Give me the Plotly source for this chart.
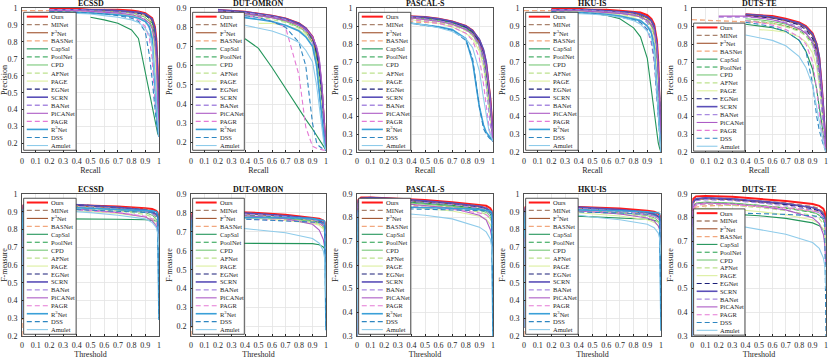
import plotly.graph_objects as go

# methods in legend order
METHODS = ["Ours", "MINet", "F3Net", "BASNet", "CapSal", "PoolNet", "CPD", "AFNet", "PAGE",
           "EGNet", "SCRN", "BANet", "PiCANet", "PAGR", "R3Net", "DSS", "Amulet"]
DUTS_METHODS = ["Ours", "MINet", "F3Net", "BASNet", "CapSal", "PoolNet", "CPD", "AFNet", "PAGE",
                "EGNet", "SCRN", "BANet", "PiCANet", "PAGR", "DSS", "Amulet"]
LABELS = {"F3Net": "F<sup>3</sup>Net", "R3Net": "R<sup>3</sup>Net"}

DATASETS = ["ECSSD", "DUT-OMRON", "PASCAL-S", "HKU-IS", "DUTS-TE"]

# x grids
RECALL = [0.0, 0.2, 0.4, 0.5, 0.6, 0.7, 0.8, 0.85, 0.9, 0.93, 0.95, 0.97, 0.98, 0.99, 1.0]
THRESH = [0.0, 0.01, 0.03, 0.1, 0.3, 0.5, 0.7, 0.9, 0.95, 0.98, 0.99, 1.0]

# ---- precision-recall (one row per method) ----
ECSSD_PR = [
    [None, 0.995, 0.995, 0.99, 0.99, 0.99, 0.985, 0.98, 0.97, 0.955, 0.94, 0.89, 0.82, 0.65, 0.24],
    [None, 0.99, 0.99, 0.99, 0.99, 0.985, 0.98, 0.975, 0.965, 0.95, 0.93, 0.87, 0.78, 0.6, 0.24],
    [None, 0.99, 0.99, 0.99, 0.985, 0.98, 0.975, 0.97, 0.96, 0.945, 0.925, 0.86, 0.76, 0.58, 0.24],
    [0.985, 0.985, 0.985, 0.985, 0.98, 0.98, 0.975, 0.97, 0.955, 0.93, 0.9, 0.8, 0.68, 0.5, 0.24],
    [None, None, None, 0.945, 0.93, 0.91, 0.87, 0.82, 0.62, 0.5, 0.42, 0.33, 0.29, 0.26, 0.24],
    [None, 0.99, 0.99, 0.985, 0.985, 0.98, 0.975, 0.97, 0.955, 0.935, 0.91, 0.82, 0.7, 0.5, 0.24],
    [None, 0.99, 0.99, 0.985, 0.98, 0.975, 0.97, 0.96, 0.945, 0.92, 0.89, 0.78, 0.65, 0.45, 0.24],
    [None, 0.985, 0.985, 0.98, 0.98, 0.975, 0.965, 0.955, 0.935, 0.91, 0.88, 0.76, 0.62, 0.45, 0.24],
    [None, 0.98, 0.98, 0.975, 0.97, 0.965, 0.955, 0.945, 0.92, 0.89, 0.85, 0.72, 0.58, 0.42, 0.24],
    [None, 0.99, 0.99, 0.99, 0.985, 0.98, 0.975, 0.97, 0.96, 0.945, 0.93, 0.87, 0.78, 0.6, 0.24],
    [None, 0.99, 0.99, 0.99, 0.99, 0.985, 0.98, 0.975, 0.965, 0.95, 0.935, 0.88, 0.8, 0.62, 0.24],
    [None, 0.99, 0.99, 0.985, 0.98, 0.975, 0.97, 0.96, 0.93, 0.88, 0.78, 0.55, 0.4, 0.3, 0.24],
    [None, 0.985, 0.985, 0.98, 0.975, 0.97, 0.96, 0.95, 0.93, 0.91, 0.88, 0.8, 0.7, 0.5, 0.24],
    [None, 0.98, 0.98, 0.975, 0.97, 0.96, 0.945, 0.93, 0.89, 0.82, 0.7, 0.45, 0.35, 0.28, 0.24],
    [None, 0.975, 0.975, 0.97, 0.965, 0.96, 0.95, 0.94, 0.92, 0.89, 0.82, 0.55, 0.4, 0.3, 0.24],
    [None, 0.98, 0.975, 0.97, 0.965, 0.955, 0.94, 0.92, 0.86, 0.72, 0.58, 0.4, 0.33, 0.28, 0.24],
    [None, 0.975, 0.97, 0.965, 0.955, 0.945, 0.93, 0.915, 0.88, 0.84, 0.78, 0.6, 0.45, 0.32, 0.24],
]
DUTO_PR = [
    [None, 0.89, 0.88, 0.87, 0.86, 0.845, 0.82, 0.795, 0.75, 0.68, 0.6, 0.46, 0.36, 0.25, 0.16],
    [None, 0.885, 0.875, 0.865, 0.855, 0.84, 0.815, 0.79, 0.74, 0.67, 0.58, 0.43, 0.33, 0.23, 0.16],
    [None, 0.885, 0.875, 0.865, 0.855, 0.84, 0.81, 0.785, 0.735, 0.66, 0.57, 0.42, 0.32, 0.23, 0.16],
    [None, None, 0.865, 0.86, 0.85, 0.835, 0.805, 0.78, 0.72, 0.62, 0.5, 0.35, 0.27, 0.2, 0.16],
    [None, None, 0.74, 0.69, 0.59, 0.48, 0.375, 0.32, 0.27, 0.235, 0.215, 0.195, 0.18, 0.17, 0.16],
    [None, 0.88, 0.87, 0.86, 0.85, 0.835, 0.81, 0.785, 0.73, 0.65, 0.55, 0.4, 0.3, 0.22, 0.16],
    [None, 0.88, 0.87, 0.86, 0.85, 0.83, 0.8, 0.775, 0.72, 0.64, 0.54, 0.4, 0.3, 0.22, 0.16],
    [None, 0.875, 0.865, 0.855, 0.84, 0.825, 0.795, 0.77, 0.71, 0.62, 0.52, 0.38, 0.29, 0.21, 0.16],
    [None, None, None, 0.82, 0.82, 0.81, 0.785, 0.76, 0.7, 0.6, 0.5, 0.36, 0.28, 0.21, 0.16],
    [None, 0.885, 0.875, 0.865, 0.855, 0.84, 0.815, 0.79, 0.745, 0.67, 0.58, 0.44, 0.34, 0.24, 0.16],
    [None, 0.89, 0.88, 0.87, 0.86, 0.845, 0.82, 0.795, 0.75, 0.69, 0.62, 0.48, 0.38, 0.26, 0.16],
    [None, 0.885, 0.875, 0.865, 0.855, 0.84, 0.81, 0.78, 0.72, 0.6, 0.48, 0.33, 0.26, 0.2, 0.16],
    [None, 0.88, 0.87, 0.86, 0.85, 0.835, 0.81, 0.79, 0.75, 0.7, 0.64, 0.5, 0.4, 0.28, 0.16],
    [None, 0.87, 0.86, 0.85, 0.83, 0.8, 0.55, 0.28, 0.18, 0.17, 0.165, 0.16, 0.16, 0.16, 0.16],
    [None, 0.86, 0.85, 0.84, 0.83, 0.81, 0.78, 0.75, 0.7, 0.6, 0.45, 0.3, 0.24, 0.19, 0.16],
    [None, None, 0.86, 0.85, 0.83, 0.8, 0.72, 0.6, 0.3, 0.2, 0.18, 0.17, 0.165, 0.16, 0.16],
    [None, None, 0.81, 0.795, 0.78, 0.755, 0.72, 0.68, 0.62, 0.5, 0.38, 0.27, 0.22, 0.18, 0.16],
]
PASCAL_PR = [
    [None, 0.96, 0.955, 0.95, 0.94, 0.925, 0.9, 0.875, 0.82, 0.76, 0.69, 0.58, 0.5, 0.4, 0.26],
    [None, 0.955, 0.95, 0.945, 0.935, 0.92, 0.895, 0.87, 0.815, 0.75, 0.68, 0.56, 0.48, 0.38, 0.26],
    [None, 0.955, 0.95, 0.945, 0.935, 0.92, 0.89, 0.865, 0.81, 0.74, 0.66, 0.54, 0.46, 0.37, 0.26],
    [None, 0.93, 0.925, 0.92, 0.915, 0.905, 0.88, 0.85, 0.78, 0.69, 0.6, 0.45, 0.38, 0.32, 0.26],
    [None, 0.95, 0.945, 0.94, 0.935, 0.92, 0.89, 0.86, 0.8, 0.72, 0.62, 0.46, 0.38, 0.32, 0.26],
    [None, 0.95, 0.945, 0.94, 0.93, 0.915, 0.885, 0.86, 0.8, 0.72, 0.63, 0.5, 0.42, 0.34, 0.26],
    [None, 0.95, 0.945, 0.94, 0.93, 0.91, 0.88, 0.85, 0.79, 0.71, 0.62, 0.48, 0.4, 0.33, 0.26],
    [None, 0.945, 0.94, 0.93, 0.92, 0.905, 0.875, 0.845, 0.78, 0.7, 0.6, 0.46, 0.39, 0.32, 0.26],
    [None, 0.94, 0.935, 0.925, 0.915, 0.895, 0.86, 0.83, 0.76, 0.67, 0.57, 0.44, 0.37, 0.31, 0.26],
    [None, 0.955, 0.95, 0.945, 0.935, 0.92, 0.895, 0.87, 0.815, 0.75, 0.67, 0.55, 0.47, 0.37, 0.26],
    [None, 0.96, 0.955, 0.95, 0.94, 0.925, 0.9, 0.875, 0.825, 0.77, 0.7, 0.58, 0.5, 0.4, 0.26],
    [None, 0.955, 0.95, 0.94, 0.93, 0.915, 0.885, 0.855, 0.79, 0.7, 0.58, 0.42, 0.35, 0.3, 0.26],
    [None, 0.95, 0.945, 0.935, 0.925, 0.91, 0.88, 0.855, 0.8, 0.74, 0.67, 0.56, 0.48, 0.38, 0.26],
    [None, 0.94, 0.935, 0.925, 0.915, 0.895, 0.86, 0.82, 0.72, 0.58, 0.45, 0.34, 0.3, 0.28, 0.26],
    [None, 0.92, 0.915, 0.905, 0.895, 0.88, 0.83, 0.7, 0.45, 0.35, 0.31, 0.29, 0.28, 0.27, 0.26],
    [None, 0.92, 0.915, 0.905, 0.895, 0.875, 0.82, 0.72, 0.45, 0.33, 0.3, 0.28, 0.27, 0.265, 0.26],
    [None, 0.92, 0.915, 0.905, 0.89, 0.87, 0.83, 0.78, 0.65, 0.5, 0.4, 0.32, 0.3, 0.28, 0.26],
]
HKU_PR = [
    [None, 0.995, 0.995, 0.99, 0.99, 0.985, 0.98, 0.975, 0.96, 0.94, 0.91, 0.82, 0.7, 0.5, 0.2],
    [None, 0.99, 0.99, 0.99, 0.985, 0.98, 0.975, 0.965, 0.95, 0.93, 0.9, 0.8, 0.68, 0.48, 0.2],
    [None, 0.99, 0.99, 0.985, 0.985, 0.98, 0.97, 0.96, 0.945, 0.925, 0.89, 0.78, 0.65, 0.46, 0.2],
    [0.985, 0.985, 0.985, 0.985, 0.98, 0.975, 0.965, 0.955, 0.93, 0.9, 0.85, 0.7, 0.55, 0.38, 0.2],
    [None, None, 0.975, 0.97, 0.96, 0.94, 0.89, 0.84, 0.72, 0.55, 0.42, 0.3, 0.25, 0.22, 0.2],
    [None, 0.99, 0.99, 0.985, 0.98, 0.975, 0.965, 0.955, 0.935, 0.91, 0.87, 0.74, 0.6, 0.42, 0.2],
    [None, 0.99, 0.985, 0.98, 0.975, 0.97, 0.96, 0.95, 0.93, 0.9, 0.86, 0.72, 0.58, 0.4, 0.2],
    [None, 0.985, 0.985, 0.98, 0.975, 0.965, 0.955, 0.945, 0.92, 0.89, 0.85, 0.7, 0.56, 0.39, 0.2],
    [None, 0.98, 0.98, 0.975, 0.97, 0.96, 0.945, 0.93, 0.9, 0.87, 0.82, 0.66, 0.52, 0.37, 0.2],
    [None, 0.99, 0.99, 0.99, 0.985, 0.98, 0.975, 0.965, 0.95, 0.93, 0.9, 0.8, 0.68, 0.48, 0.2],
    [None, 0.99, 0.99, 0.99, 0.985, 0.98, 0.975, 0.965, 0.95, 0.93, 0.9, 0.8, 0.68, 0.5, 0.2],
    [None, 0.99, 0.99, 0.985, 0.98, 0.975, 0.965, 0.95, 0.92, 0.87, 0.8, 0.6, 0.45, 0.32, 0.2],
    [None, 0.985, 0.985, 0.98, 0.975, 0.97, 0.96, 0.95, 0.93, 0.91, 0.88, 0.78, 0.66, 0.48, 0.2],
    [None, 0.98, 0.975, 0.97, 0.965, 0.955, 0.94, 0.92, 0.88, 0.8, 0.7, 0.5, 0.38, 0.28, 0.2],
    [None, 0.975, 0.975, 0.97, 0.965, 0.955, 0.94, 0.93, 0.9, 0.86, 0.78, 0.55, 0.42, 0.3, 0.2],
    [None, 0.98, 0.975, 0.97, 0.96, 0.95, 0.935, 0.92, 0.88, 0.82, 0.72, 0.5, 0.38, 0.28, 0.2],
    [None, 0.975, 0.97, 0.965, 0.96, 0.95, 0.93, 0.91, 0.87, 0.83, 0.76, 0.56, 0.42, 0.3, 0.2],
]
DUTS_PR = [
    [None, None, 0.965, 0.96, 0.955, 0.94, 0.92, 0.9, 0.86, 0.8, 0.72, 0.55, 0.45, 0.33, 0.2],
    [None, None, 0.96, 0.955, 0.95, 0.935, 0.915, 0.895, 0.85, 0.79, 0.7, 0.52, 0.42, 0.31, 0.2],
    [None, None, 0.96, 0.955, 0.945, 0.93, 0.91, 0.89, 0.845, 0.78, 0.69, 0.5, 0.4, 0.3, 0.2],
    [0.935, 0.93, 0.925, 0.92, 0.915, 0.9, 0.88, 0.86, 0.81, 0.74, 0.64, 0.46, 0.37, 0.28, 0.2],
    [None, None, 0.91, 0.9, 0.89, 0.87, 0.82, 0.76, 0.66, 0.55, 0.45, 0.33, 0.28, 0.24, 0.2],
    [None, None, 0.93, 0.925, 0.915, 0.9, 0.875, 0.85, 0.8, 0.72, 0.62, 0.45, 0.36, 0.28, 0.2],
    [None, None, 0.94, 0.935, 0.925, 0.91, 0.885, 0.86, 0.815, 0.75, 0.65, 0.48, 0.38, 0.29, 0.2],
    [None, None, 0.93, 0.925, 0.915, 0.895, 0.87, 0.845, 0.79, 0.71, 0.6, 0.44, 0.36, 0.28, 0.2],
    [None, None, None, 0.88, 0.875, 0.865, 0.84, 0.81, 0.75, 0.67, 0.57, 0.42, 0.35, 0.27, 0.2],
    [None, None, 0.955, 0.95, 0.945, 0.93, 0.905, 0.88, 0.83, 0.76, 0.66, 0.5, 0.4, 0.3, 0.2],
    [None, None, 0.965, 0.96, 0.95, 0.935, 0.915, 0.895, 0.855, 0.8, 0.73, 0.57, 0.46, 0.34, 0.2],
    [None, 0.95, 0.95, 0.945, 0.935, 0.92, 0.895, 0.87, 0.81, 0.72, 0.6, 0.42, 0.34, 0.27, 0.2],
    [None, 0.955, 0.955, 0.945, 0.935, 0.915, 0.885, 0.86, 0.81, 0.75, 0.68, 0.54, 0.44, 0.32, 0.2],
    [None, None, 0.93, 0.92, 0.905, 0.88, 0.84, 0.8, 0.7, 0.55, 0.42, 0.3, 0.26, 0.23, 0.2],
    [None, None, 0.92, 0.91, 0.895, 0.87, 0.82, 0.76, 0.58, 0.4, 0.32, 0.26, 0.24, 0.22, 0.2],
    [None, None, 0.85, 0.835, 0.82, 0.79, 0.73, 0.67, 0.57, 0.45, 0.36, 0.28, 0.25, 0.22, 0.2],
]

# ---- F-measure vs threshold ----
ECSSD_F = [
    [0.3, 0.935, 0.94, 0.945, 0.94, 0.935, 0.93, 0.92, 0.915, 0.905, 0.895, 0.86],
    [0.3, 0.93, 0.94, 0.945, 0.94, 0.935, 0.925, 0.915, 0.905, 0.89, 0.88, 0.83],
    [0.3, 0.925, 0.935, 0.94, 0.94, 0.93, 0.92, 0.905, 0.895, 0.88, 0.87, 0.8],
    [0.2, 0.9, 0.92, 0.935, 0.935, 0.93, 0.92, 0.905, 0.895, 0.88, 0.87, 0.82],
    [0.3, 0.84, 0.855, 0.86, 0.86, 0.86, 0.858, 0.855, 0.852, 0.848, 0.845, 0.83],
    [0.3, 0.92, 0.93, 0.935, 0.93, 0.925, 0.915, 0.9, 0.89, 0.87, 0.86, 0.8],
    [0.3, 0.92, 0.93, 0.935, 0.93, 0.92, 0.91, 0.895, 0.88, 0.86, 0.84, 0.75],
    [0.3, 0.91, 0.92, 0.93, 0.925, 0.915, 0.905, 0.885, 0.87, 0.85, 0.83, 0.75],
    [0.3, 0.9, 0.91, 0.915, 0.91, 0.9, 0.89, 0.87, 0.855, 0.83, 0.81, 0.72],
    [0.3, 0.93, 0.94, 0.945, 0.94, 0.935, 0.925, 0.91, 0.9, 0.885, 0.875, 0.8],
    [0.3, 0.935, 0.945, 0.95, 0.945, 0.935, 0.925, 0.91, 0.9, 0.885, 0.875, 0.8],
    [0.3, 0.925, 0.935, 0.94, 0.935, 0.925, 0.915, 0.9, 0.89, 0.87, 0.85, 0.78],
    [0.3, 0.9, 0.915, 0.925, 0.92, 0.91, 0.895, 0.87, 0.85, 0.82, 0.79, 0.72],
    [0.3, 0.88, 0.9, 0.915, 0.915, 0.905, 0.895, 0.875, 0.86, 0.84, 0.82, 0.75],
    [0.78, 0.91, 0.92, 0.925, 0.925, 0.92, 0.915, 0.91, 0.905, 0.9, 0.89, 0.29],
    [0.3, 0.9, 0.91, 0.915, 0.915, 0.91, 0.905, 0.9, 0.895, 0.89, 0.88, 0.3],
    [0.3, 0.89, 0.9, 0.91, 0.905, 0.895, 0.88, 0.86, 0.84, 0.81, 0.78, 0.7],
]
DUTO_F = [
    [0.2, 0.8, 0.81, 0.81, 0.805, 0.8, 0.79, 0.775, 0.77, 0.76, 0.75, 0.7],
    [0.2, 0.79, 0.805, 0.81, 0.805, 0.795, 0.785, 0.77, 0.76, 0.75, 0.74, 0.68],
    [0.2, 0.79, 0.8, 0.805, 0.8, 0.79, 0.78, 0.765, 0.755, 0.74, 0.73, 0.66],
    [0.15, 0.75, 0.765, 0.77, 0.775, 0.775, 0.77, 0.765, 0.76, 0.75, 0.74, 0.7],
    [0.2, 0.62, 0.635, 0.64, 0.64, 0.64, 0.64, 0.638, 0.632, 0.62, 0.61, 0.6],
    [0.2, 0.78, 0.79, 0.795, 0.79, 0.785, 0.775, 0.76, 0.75, 0.735, 0.72, 0.65],
    [0.2, 0.78, 0.79, 0.795, 0.79, 0.78, 0.77, 0.755, 0.745, 0.725, 0.71, 0.63],
    [0.2, 0.77, 0.78, 0.785, 0.78, 0.775, 0.765, 0.75, 0.74, 0.72, 0.7, 0.62],
    [0.2, 0.76, 0.77, 0.775, 0.775, 0.77, 0.76, 0.745, 0.735, 0.715, 0.7, 0.62],
    [0.2, 0.79, 0.8, 0.805, 0.8, 0.795, 0.785, 0.77, 0.76, 0.745, 0.735, 0.66],
    [0.2, 0.79, 0.805, 0.81, 0.805, 0.795, 0.785, 0.77, 0.76, 0.745, 0.735, 0.66],
    [0.2, 0.78, 0.79, 0.795, 0.795, 0.79, 0.78, 0.765, 0.755, 0.74, 0.73, 0.66],
    [0.2, 0.77, 0.785, 0.79, 0.79, 0.78, 0.77, 0.74, 0.71, 0.66, 0.62, 0.5],
    [0.2, 0.75, 0.765, 0.77, 0.77, 0.765, 0.76, 0.75, 0.745, 0.73, 0.72, 0.65],
    [0.6, 0.76, 0.77, 0.775, 0.775, 0.775, 0.775, 0.77, 0.765, 0.76, 0.755, 0.18],
    [0.2, 0.76, 0.765, 0.77, 0.77, 0.765, 0.76, 0.755, 0.75, 0.745, 0.74, 0.2],
    [0.2, 0.72, 0.73, 0.735, 0.725, 0.71, 0.695, 0.665, 0.64, 0.6, 0.56, 0.35],
]
PASCAL_F = [
    [0.3, 0.875, 0.885, 0.885, 0.88, 0.875, 0.865, 0.855, 0.85, 0.84, 0.83, 0.8],
    [0.3, 0.87, 0.88, 0.882, 0.878, 0.87, 0.86, 0.85, 0.843, 0.83, 0.82, 0.78],
    [0.3, 0.87, 0.878, 0.88, 0.875, 0.868, 0.858, 0.845, 0.838, 0.825, 0.815, 0.77],
    [0.3, 0.84, 0.85, 0.855, 0.855, 0.85, 0.845, 0.835, 0.83, 0.82, 0.81, 0.78],
    [0.3, 0.86, 0.87, 0.875, 0.87, 0.862, 0.852, 0.838, 0.83, 0.815, 0.805, 0.77],
    [0.3, 0.865, 0.875, 0.878, 0.872, 0.865, 0.855, 0.84, 0.832, 0.818, 0.805, 0.76],
    [0.3, 0.86, 0.87, 0.872, 0.866, 0.858, 0.848, 0.832, 0.822, 0.805, 0.79, 0.74],
    [0.3, 0.855, 0.865, 0.868, 0.862, 0.852, 0.84, 0.824, 0.814, 0.795, 0.78, 0.73],
    [0.3, 0.845, 0.855, 0.858, 0.85, 0.84, 0.828, 0.806, 0.793, 0.772, 0.755, 0.7],
    [0.3, 0.87, 0.88, 0.882, 0.877, 0.87, 0.86, 0.846, 0.838, 0.825, 0.815, 0.77],
    [0.3, 0.872, 0.882, 0.885, 0.88, 0.872, 0.862, 0.848, 0.84, 0.828, 0.818, 0.77],
    [0.3, 0.865, 0.875, 0.878, 0.873, 0.865, 0.855, 0.84, 0.832, 0.818, 0.805, 0.76],
    [0.3, 0.855, 0.865, 0.868, 0.862, 0.852, 0.84, 0.81, 0.79, 0.75, 0.72, 0.65],
    [0.3, 0.84, 0.852, 0.856, 0.852, 0.845, 0.835, 0.82, 0.812, 0.798, 0.788, 0.74],
    [0.6, 0.83, 0.84, 0.845, 0.845, 0.843, 0.84, 0.835, 0.832, 0.828, 0.825, 0.3],
    [0.3, 0.83, 0.835, 0.838, 0.838, 0.836, 0.833, 0.83, 0.828, 0.824, 0.82, 0.32],
    [0.3, 0.82, 0.83, 0.83, 0.82, 0.81, 0.795, 0.76, 0.74, 0.71, 0.68, 0.6],
]
HKU_F = [
    [0.25, 0.925, 0.935, 0.935, 0.93, 0.925, 0.918, 0.905, 0.9, 0.89, 0.88, 0.86],
    [0.25, 0.92, 0.93, 0.932, 0.928, 0.92, 0.912, 0.898, 0.89, 0.878, 0.87, 0.83],
    [0.25, 0.915, 0.925, 0.93, 0.925, 0.918, 0.908, 0.893, 0.885, 0.87, 0.86, 0.81],
    [0.2, 0.89, 0.91, 0.92, 0.92, 0.915, 0.908, 0.895, 0.888, 0.875, 0.865, 0.82],
    [0.25, 0.87, 0.88, 0.882, 0.878, 0.872, 0.866, 0.858, 0.852, 0.845, 0.84, 0.82],
    [0.25, 0.91, 0.922, 0.925, 0.92, 0.912, 0.902, 0.886, 0.876, 0.86, 0.848, 0.79],
    [0.25, 0.905, 0.917, 0.92, 0.915, 0.906, 0.895, 0.878, 0.866, 0.848, 0.835, 0.77],
    [0.25, 0.9, 0.91, 0.915, 0.91, 0.9, 0.888, 0.87, 0.858, 0.84, 0.825, 0.76],
    [0.25, 0.89, 0.9, 0.905, 0.9, 0.89, 0.876, 0.855, 0.84, 0.82, 0.805, 0.74],
    [0.25, 0.92, 0.93, 0.932, 0.928, 0.92, 0.91, 0.895, 0.886, 0.872, 0.862, 0.8],
    [0.25, 0.92, 0.932, 0.935, 0.93, 0.922, 0.912, 0.897, 0.888, 0.874, 0.864, 0.8],
    [0.25, 0.912, 0.924, 0.928, 0.923, 0.915, 0.904, 0.888, 0.878, 0.862, 0.85, 0.78],
    [0.25, 0.9, 0.912, 0.916, 0.91, 0.9, 0.887, 0.865, 0.848, 0.82, 0.8, 0.72],
    [0.25, 0.895, 0.91, 0.915, 0.912, 0.905, 0.896, 0.882, 0.874, 0.86, 0.85, 0.78],
    [0.75, 0.9, 0.91, 0.912, 0.912, 0.91, 0.906, 0.9, 0.897, 0.893, 0.89, 0.23],
    [0.25, 0.89, 0.9, 0.902, 0.9, 0.897, 0.893, 0.886, 0.882, 0.877, 0.872, 0.3],
    [0.25, 0.89, 0.9, 0.9, 0.89, 0.87, 0.855, 0.83, 0.81, 0.78, 0.75, 0.66],
]
DUTS_F = [
    [0.3, 0.88, 0.89, 0.892, 0.888, 0.88, 0.87, 0.858, 0.85, 0.838, 0.825, 0.79],
    [0.3, 0.87, 0.88, 0.884, 0.88, 0.872, 0.862, 0.847, 0.838, 0.823, 0.81, 0.77],
    [0.3, 0.865, 0.876, 0.88, 0.876, 0.868, 0.857, 0.842, 0.832, 0.816, 0.803, 0.76],
    [0.3, 0.83, 0.845, 0.85, 0.852, 0.848, 0.842, 0.832, 0.825, 0.812, 0.8, 0.77],
    [0.3, 0.8, 0.815, 0.82, 0.815, 0.808, 0.797, 0.778, 0.766, 0.75, 0.738, 0.7],
    [0.3, 0.85, 0.86, 0.865, 0.86, 0.852, 0.84, 0.822, 0.81, 0.79, 0.775, 0.72],
    [0.3, 0.85, 0.862, 0.866, 0.862, 0.853, 0.842, 0.824, 0.812, 0.79, 0.775, 0.71],
    [0.3, 0.84, 0.852, 0.856, 0.852, 0.843, 0.83, 0.81, 0.796, 0.775, 0.76, 0.7],
    [0.3, 0.825, 0.837, 0.84, 0.835, 0.826, 0.812, 0.79, 0.775, 0.752, 0.735, 0.68],
    [0.3, 0.865, 0.876, 0.88, 0.876, 0.867, 0.855, 0.838, 0.828, 0.81, 0.797, 0.74],
    [0.3, 0.868, 0.88, 0.884, 0.88, 0.871, 0.86, 0.843, 0.832, 0.815, 0.8, 0.74],
    [0.3, 0.86, 0.872, 0.876, 0.872, 0.863, 0.85, 0.832, 0.82, 0.8, 0.785, 0.72],
    [0.3, 0.845, 0.858, 0.862, 0.858, 0.848, 0.833, 0.8, 0.775, 0.73, 0.69, 0.6],
    [0.3, 0.84, 0.853, 0.858, 0.856, 0.85, 0.842, 0.828, 0.82, 0.805, 0.793, 0.74],
    [0.3, 0.81, 0.818, 0.82, 0.82, 0.818, 0.814, 0.808, 0.804, 0.798, 0.792, 0.3],
    [0.3, 0.77, 0.78, 0.78, 0.77, 0.75, 0.73, 0.695, 0.67, 0.63, 0.6, 0.5],
]

PR_YRANGE = [[0.15, 1], [0.15, 0.9], [0.2, 1], [0.2, 1], [0.2, 1]]
F_YRANGE = [[0.2, 1], [0.15, 0.9], [0.3, 0.9], [0.2, 1], [0.3, 0.9]]

# colour, dash, width
STYLE = {
    "Ours": ("#ff1a1a", "solid", 2.0),
    "MINet": ("#a9826d", "5px,3px", 1.3),
    "F3Net": ("#a0522d", "solid", 1.1),
    "BASNet": ("#f2a77e", "5px,3px", 1.3),
    "CapSal": ("#23955a", "solid", 1.1),
    "PoolNet": ("#1f9e48", "5px,3px", 1.0),
    "CPD": ("#6cc36c", "solid", 1.0),
    "AFNet": ("#bde28e", "5px,3px", 1.2),
    "PAGE": ("#dcef9f", "solid", 1.1),
    "EGNet": ("#1b1f78", "5px,3px", 1.1),
    "SCRN": ("#5a4fb8", "solid", 1.6),
    "BANet": ("#a98be0", "5px,3px", 1.3),
    "PiCANet": ("#ad5cc6", "solid", 1.1),
    "PAGR": ("#e57ad5", "5px,3px", 1.1),
    "R3Net": ("#3aa0d8", "solid", 1.6),
    "DSS": ("#2e86c1", "5px,3px", 1.1),
    "Amulet": ("#8ecbea", "solid", 1.1),
}

W, H = 831, 359
X_PIX = [(22, 159), (191, 326), (357, 493), (524, 661), (692, 826)]
Y_PIX = [(8, 152), (194, 336)]
FONT = "Liberation Serif"
INK = "#262626"

PR_DATA = [ECSSD_PR, DUTO_PR, PASCAL_PR, HKU_PR, DUTS_PR]
F_DATA = [ECSSD_F, DUTO_F, PASCAL_F, HKU_F, DUTS_F]

panels = []
for c, name in enumerate(DATASETS):
    methods = DUTS_METHODS if name == "DUTS-TE" else METHODS
    panels.append((0, c, name, RECALL, PR_DATA[c], methods, PR_YRANGE[c], "Recall", "Precision"))
for c, name in enumerate(DATASETS):
    methods = DUTS_METHODS if name == "DUTS-TE" else METHODS
    panels.append((1, c, name, THRESH, F_DATA[c], methods, F_YRANGE[c], "Threshold", "F-measure"))

fig = go.Figure()
shapes = []
annotations = []

for k, (row, col, name, xs, rows, methods, yr, xtitle, ytitle) in enumerate(panels):
    sfx = "" if k == 0 else str(k + 1)
    for m, ys in zip(methods, rows):
        color, dash, width = STYLE[m]
        fig.add_trace(go.Scatter(
            x=xs, y=ys, mode="lines", name=m, showlegend=False,
            line=dict(color=color, dash=dash, width=width),
            xaxis="x" + sfx, yaxis="y" + sfx,
        ))

    xd = X_PIX[col]
    yd = Y_PIX[row]
    common = dict(
        showline=True, linecolor=INK, linewidth=0.8, mirror=True,
        ticks="inside", ticklen=2, tickcolor=INK, automargin=False,
        showgrid=True, gridcolor="#e3e3e3", gridwidth=0.8, zeroline=False,
        tick0=0, dtick=0.1,
        tickfont=dict(family=FONT, size=8, color=INK),
    )
    fig.layout["xaxis" + sfx] = dict(
        common, domain=[xd[0] / W, xd[1] / W], range=[0, 1], anchor="y" + sfx,
        ticklabelstandoff=2,
        title=dict(text=xtitle, font=dict(family=FONT, size=8, color=INK), standoff=1),
    )
    fig.layout["yaxis" + sfx] = dict(
        common, domain=[1 - yd[1] / H, 1 - yd[0] / H], range=yr, anchor="x" + sfx,
        ticklabelstandoff=2,
        title=dict(text=ytitle, font=dict(family=FONT, size=8, color=INK), standoff=2),
    )

    # panel title
    annotations.append(dict(
        text="<b>" + name + "</b>", x=(xd[0] + xd[1]) / 2 / W, y=1 - yd[0] / H,
        xref="paper", yref="paper", xanchor="center", yanchor="bottom",
        showarrow=False, yshift=-2, font=dict(family=FONT, size=8, color="#111"),
    ))

    # legend box drawn inside each panel (paper coordinates)
    def px(f):
        return (xd[0] + f * (xd[1] - xd[0])) / W

    def py(f):
        return 1 - (yd[1] - f * (yd[1] - yd[0])) / H

    n = len(methods)
    if n == 17:
        top, bot, first, last = 0.97, 0.012, 0.94, 0.045
    else:
        top, bot, first, last = 0.895, 0.006, 0.865, 0.04
    shapes.append(dict(type="rect", xref="paper", yref="paper", x0=px(0.012), x1=px(0.395),
                       y0=py(bot), y1=py(top), fillcolor="white",
                       line=dict(color=INK, width=0.8), layer="above"))
    step = (first - last) / (n - 1)
    for i, m in enumerate(methods):
        color, dash, width = STYLE[m]
        yy = py(first - i * step)
        shapes.append(dict(type="line", xref="paper", yref="paper", x0=px(0.035), x1=px(0.19),
                           y0=yy, y1=yy, line=dict(color=color, dash=dash, width=width),
                           layer="above"))
        annotations.append(dict(
            text=LABELS.get(m, m), xref="paper", yref="paper", x=px(0.205), y=yy,
            xanchor="left", yanchor="middle", align="left", showarrow=False, borderpad=0,
            font=dict(family=FONT, size=6.5, color=INK),
        ))

fig.update_layout(
    width=W, height=H,
    margin=dict(l=0, r=0, t=0, b=0),
    paper_bgcolor="white", plot_bgcolor="white",
    showlegend=False, hovermode=False,
    shapes=shapes, annotations=annotations,
)

# the page's default body margin would shift the figure by 8px
fig.write_html("out.html", config={"staticPlot": True},
               post_script="document.body.style.margin='0';")
